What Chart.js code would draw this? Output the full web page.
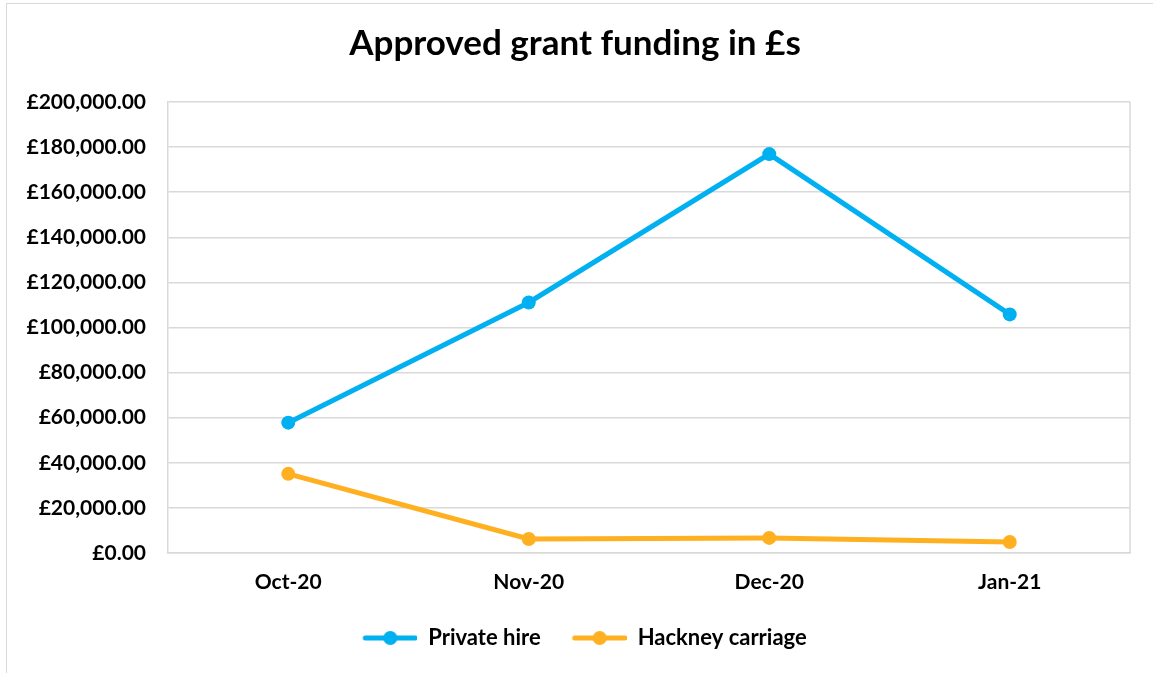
<!DOCTYPE html>
<html>
<head>
<meta charset="utf-8">
<script src="https://cdn.jsdelivr.net/npm/chart.js@4.4.1/dist/chart.umd.min.js"></script>
<style>
html,body{margin:0;padding:0;background:#fff;}
#wrap{position:relative;width:1153px;height:673px;overflow:hidden;}
#frame{position:absolute;left:6px;top:3px;width:1150px;height:680px;border:1.5px solid #d9d9d9;box-sizing:border-box;}
canvas{position:absolute;left:0;top:0;}
</style>
</head>
<body>
<div id="wrap">
<div id="frame"></div>
<canvas id="chart" width="1153" height="673"></canvas>
</div>
<script>
// ===========================================
// DATA
// ===========================================

const months = ["Oct-20","Nov-20","Dec-20","Jan-21"];

const privateHire = [57800,111100,176900,105800];

const hackneyCarriage = [35100,6200,6700,4900];

const Y_MAX = 200000;
const Y_STEP = 20000;

const BLUE = "#00b0f0";
const GOLD = "#ffb020";

const FONT = "Lato";

// ===========================================
// LEGEND ICON (blank gap + line + dot)
// ===========================================

function legendIcon(color){

    const c = document.createElement("canvas");
    c.width = 74;
    c.height = 16;
    const ctx = c.getContext("2d");

    ctx.strokeStyle = color;
    ctx.lineWidth = 5;
    ctx.lineCap = "round";
    ctx.beginPath();
    ctx.moveTo(22,8);
    ctx.lineTo(72,8);
    ctx.stroke();

    ctx.fillStyle = color;
    ctx.beginPath();
    ctx.arc(47,8,7,0,Math.PI*2);
    ctx.fill();

    return c;
}

// ===========================================
// CHART
// ===========================================

Chart.defaults.font.family = FONT;
Chart.defaults.color = "#000";

new Chart(document.getElementById("chart"),{

type:"line",

data:{
    labels:months,
    datasets:[
        {
            label:"Private hire",
            data:privateHire,
            borderColor:BLUE,
            backgroundColor:BLUE,
            borderWidth:5,
            pointRadius:7,
            pointHoverRadius:7,
            pointBackgroundColor:BLUE,
            pointBorderWidth:0,
            tension:0
        },
        {
            label:"Hackney carriage",
            data:hackneyCarriage,
            borderColor:GOLD,
            backgroundColor:GOLD,
            borderWidth:5,
            pointRadius:7,
            pointHoverRadius:7,
            pointBackgroundColor:GOLD,
            pointBorderWidth:0,
            tension:0
        }
    ]
},

options:{
    responsive:false,
    animation:false,
    layout:{
        padding:{left:20,right:23,top:0,bottom:14}
    },
    plugins:{
        title:{
            display:true,
            text:"Approved grant funding in £s",
            color:"#000",
            font:{size:35,weight:"bold"},
            padding:{top:23,bottom:37}
        },
        legend:{
            position:"bottom",
            labels:{
                usePointStyle:true,
                pointStyleWidth:74,
                color:"#000",
                font:{size:22,weight:"bold"},
                padding:12,
                generateLabels(chart){
                    return chart.data.datasets.map((ds,i)=>({
                        text:ds.label,
                        pointStyle:legendIcon(ds.borderColor),
                        fillStyle:ds.borderColor,
                        strokeStyle:ds.borderColor,
                        lineWidth:0,
                        hidden:false,
                        datasetIndex:i
                    }));
                }
            }
        },
        tooltip:{enabled:false}
    },
    scales:{
        x:{
            offset:true,
            grid:{display:false,drawTicks:false},
            border:{display:true,color:"#d9d9d9",width:1.5},
            ticks:{
                padding:17,
                color:"#000",
                font:{size:21,weight:"bold"}
            },
            afterFit(axis){ axis.height = 62; }
        },
        y:{
            min:0,
            max:Y_MAX,
            grid:{color:"#d9d9d9",lineWidth:1.5,drawTicks:false},
            border:{display:true,color:"#d9d9d9",width:1.5},
            ticks:{
                stepSize:Y_STEP,
                padding:22,
                color:"#000",
                font:{size:21,weight:"bold"},
                callback:(v)=>"£"+Number(v).toLocaleString("en-GB",{minimumFractionDigits:2,maximumFractionDigits:2})
            },
            afterFit(axis){ axis.width = 148; }
        }
    }
},

plugins:[{
    id:"rightBorder",
    afterDraw(chart){
        const a = chart.chartArea;
        const ctx = chart.ctx;
        ctx.save();
        ctx.strokeStyle = "#d9d9d9";
        ctx.lineWidth = 1.5;
        ctx.beginPath();
        ctx.moveTo(a.right,a.top);
        ctx.lineTo(a.right,a.bottom);
        ctx.stroke();
        ctx.restore();
    }
}]

});
</script>
</body>
</html>
